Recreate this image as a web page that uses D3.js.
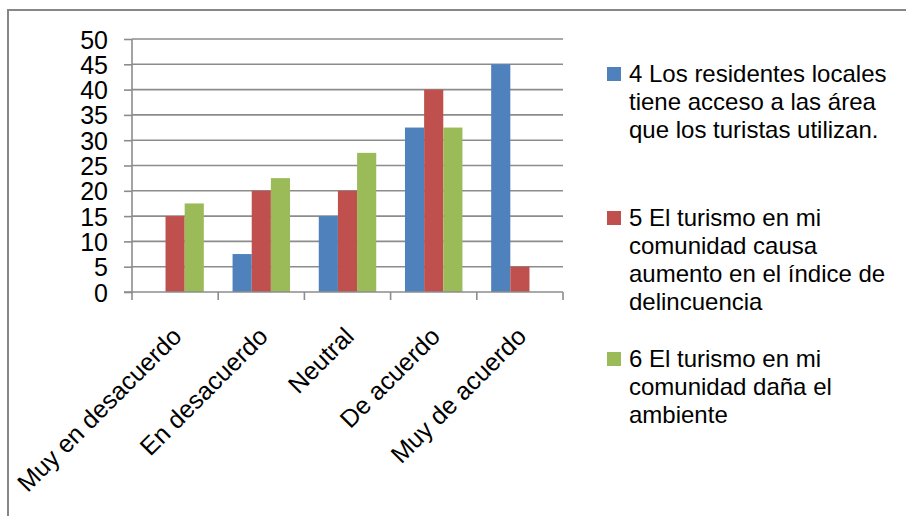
<!DOCTYPE html>
<html>
<head>
<meta charset="utf-8">
<script src="https://cdn.jsdelivr.net/npm/d3@7/dist/d3.min.js"></script>
<style>
  html, body { margin: 0; padding: 0; background: #fff; }
  svg { display: block; }
  text { font-family: "Liberation Sans Narrow", "Arial Narrow", "Liberation Sans", sans-serif; fill: #000; }
</style>
</head>
<body>
<svg id="chart" width="906" height="516"></svg>
<script>
const categories = ["Muy en desacuerdo", "En desacuerdo", "Neutral", "De acuerdo", "Muy de acuerdo"];
const seriesNames = ["s4", "s5", "s6"];
const series4 = [0, 7.5, 15, 32.5, 45];
const series5 = [15, 20, 20, 40, 5];
const series6 = [17.5, 22.5, 27.5, 32.5, 0];
const yTicks = [0, 5, 10, 15, 20, 25, 30, 35, 40, 45, 50];
const legendLines = [
  ["4 Los residentes locales", "tiene acceso a las área", "que los turistas utilizan."],
  ["5 El turismo en mi", "comunidad causa", "aumento en el índice de", "delincuencia"],
  ["6 El turismo en mi", "comunidad daña el", "ambiente"]
];
const colors = ["#4f81bd", "#c0504d", "#9bbb59"];
const allSeries = [series4, series5, series6];

const svg = d3.select("#chart");

// outer border (continues past the right and bottom edges)
svg.append("rect")
  .attr("x", 8).attr("y", 10)
  .attr("width", 1000).attr("height", 600)
  .attr("fill", "none").attr("stroke", "#878787").attr("stroke-width", 2);

const x0 = 132, x1 = 563, yTop = 39, yBot = 292;
const x = d3.scaleBand().domain(categories).range([x0, x1]).paddingInner(0).paddingOuter(0);
const y = d3.scaleLinear().domain([0, 50]).range([yBot, yTop]);
const bw = x.bandwidth() / 4.5;
const xs = d3.scaleBand().domain(seriesNames).range([0, bw * 3]);

// gridlines
svg.append("g").selectAll("line").data(yTicks.filter(d => d > 0)).join("line")
  .attr("x1", x0).attr("x2", x1)
  .attr("y1", d => y(d)).attr("y2", d => y(d))
  .attr("stroke", "#8c8c8c").attr("stroke-width", 1.6);

// y axis
const yAxis = svg.append("g").attr("transform", `translate(${x0},0)`)
  .call(d3.axisLeft(y).tickValues(yTicks).tickSize(8).tickPadding(16).tickFormat(d3.format("d")));
yAxis.select(".domain").attr("stroke", "#8c8c8c").attr("stroke-width", 1.6).attr("d", `M0,${yTop}V${yBot}`);
yAxis.selectAll(".tick line").attr("stroke", "#8c8c8c").attr("stroke-width", 1.6);
yAxis.selectAll(".tick text").attr("font-size", 25).attr("dy", "0.36em")
  .style("font-family", '"Liberation Sans Narrow", sans-serif');

// bars
const groups = svg.append("g").selectAll("g").data(categories).join("g")
  .attr("transform", d => `translate(${x(d) + bw * 0.75},0)`);
groups.selectAll("rect").data((c, i) => allSeries.map((s, k) => ({ k, v: s[i] })))
  .join("rect")
  .filter(d => d.v > 0)
  .attr("x", d => xs(seriesNames[d.k]))
  .attr("width", xs.bandwidth())
  .attr("y", d => y(d.v))
  .attr("height", d => y(0) - y(d.v))
  .attr("fill", d => colors[d.k]);

// x axis
const xAxisG = svg.append("g");
xAxisG.append("line").attr("x1", x0 - 8).attr("x2", x1).attr("y1", yBot).attr("y2", yBot)
  .attr("stroke", "#8c8c8c").attr("stroke-width", 1.6);
const bounds = categories.map(c => x(c)).concat([x1]);
xAxisG.selectAll("line.tk").data(bounds).join("line").attr("class", "tk")
  .attr("x1", d => d).attr("x2", d => d).attr("y1", yBot).attr("y2", yBot + 8)
  .attr("stroke", "#8c8c8c").attr("stroke-width", 1.6);

xAxisG.selectAll("text").data(categories).join("text")
  .attr("transform", d => `translate(${x(d) + x.bandwidth() / 2 + 8},${yBot + 46}) rotate(-45)`)
  .attr("text-anchor", "end")
  .attr("font-size", 25)
  .text(d => d);

// legend
const legendTop = [82, 226, 367];
const lg = svg.append("g");
legendLines.forEach((lines, i) => {
  lg.append("rect").attr("x", 607).attr("y", legendTop[i] - 15).attr("width", 14).attr("height", 14)
    .attr("fill", colors[i]);
  lines.forEach((t, j) => {
    lg.append("text").attr("x", 629).attr("y", legendTop[i] + j * 28)
      .attr("font-size", 24).text(t);
  });
});
</script>
</body>
</html>
